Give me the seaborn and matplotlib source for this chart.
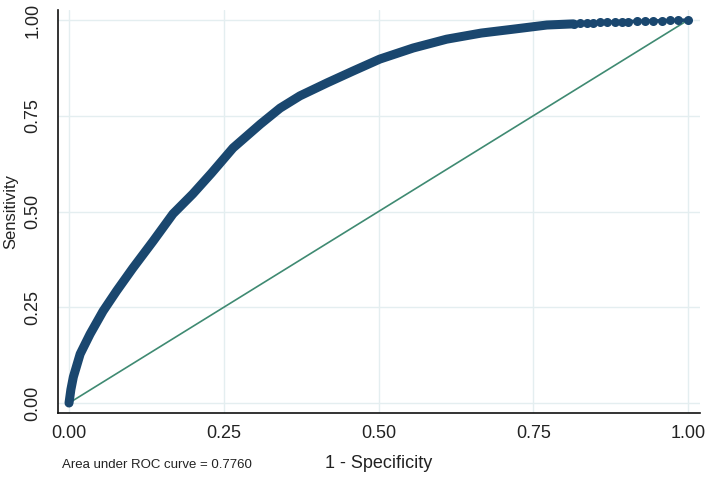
import numpy as np
import pandas as pd
import matplotlib
matplotlib.use('Agg')
import matplotlib.pyplot as plt
import seaborn as sns

# ROC points (1 - specificity, sensitivity)
# dense part of the curve
fpr = [0.0, 0.003, 0.007, 0.018, 0.034, 0.055, 0.077, 0.103, 0.136, 0.168,
       0.200, 0.230, 0.265, 0.309, 0.341, 0.373, 0.417, 0.459, 0.502, 0.556,
       0.610, 0.666, 0.717, 0.772, 0.815]
tpr = [0.0, 0.035, 0.068, 0.128, 0.180, 0.240, 0.293, 0.352, 0.423, 0.494,
       0.546, 0.600, 0.666, 0.728, 0.770, 0.802, 0.836, 0.867, 0.898, 0.927,
       0.950, 0.966, 0.976, 0.987, 0.990]
# sparse tail where single points can be seen
tail_fpr = [0.815, 0.826, 0.837, 0.847, 0.858, 0.869, 0.882, 0.893, 0.903,
            0.918, 0.931, 0.943, 0.958, 0.971, 0.984, 1.0]
tail_tpr = [0.990, 0.991, 0.992, 0.993, 0.994, 0.995, 0.995, 0.996, 0.996,
            0.997, 0.997, 0.998, 0.998, 0.999, 0.999, 1.0]
ref_x = [0.0, 1.0]
ref_y = [0.0, 1.0]
ticks = [0.0, 0.25, 0.5, 0.75, 1.0]
tick_labels = ['0.00', '0.25', '0.50', '0.75', '1.00']
auc_text = 'Area under ROC curve = 0.7760'

sns.set_style('white')
plt.rcParams['font.family'] = ['Liberation Sans', 'DejaVu Sans']

roc = pd.DataFrame({'fpr': fpr, 'tpr': tpr})
tail = pd.DataFrame({'fpr': tail_fpr, 'tpr': tail_tpr})
ref = pd.DataFrame({'x': ref_x, 'y': ref_y})

navy = '#1a476f'
fig = plt.figure(figsize=(7.09, 4.8), dpi=100)
ax = fig.add_axes([0.0818, 0.1396, 0.987 - 0.0818, 0.979 - 0.1396])

sns.lineplot(data=ref, x='x', y='y', ax=ax, color='#3f8a72', linewidth=1.2,
             zorder=2)
sns.lineplot(data=roc, x='fpr', y='tpr', ax=ax, color=navy, linewidth=6.5,
             sort=False, estimator=None, zorder=3,
             solid_capstyle='round', solid_joinstyle='round')
sns.lineplot(data=tail, x='fpr', y='tpr', ax=ax, color=navy, linewidth=2.5,
             marker='o', markersize=6.5, markeredgewidth=0, sort=False,
             estimator=None, zorder=3)

ax.set_xlim(-0.0178, 1.019)
ax.set_ylim(-0.026, 1.026)
ax.set_xticks(ticks)
ax.set_xticklabels(tick_labels)
ax.set_yticks(ticks)
ax.set_yticklabels(tick_labels, rotation=90, va='center')
ax.grid(True, color='#e4eef0', linewidth=1.0)
ax.set_axisbelow(True)
for s in ['top', 'right']:
    ax.spines[s].set_visible(False)
for s in ['left', 'bottom']:
    ax.spines[s].set_color('#111111')
    ax.spines[s].set_linewidth(1.2)
ax.tick_params(axis='both', direction='out', length=5, width=1.1,
               color='#111111', labelsize=13, labelcolor='#222222')
ax.tick_params(axis='x', pad=4)
ax.tick_params(axis='y', pad=7)

ax.set_xlabel('1 - Specificity', fontsize=13, color='#222222', labelpad=9)
ax.set_ylabel('Sensitivity', fontsize=12, color='#222222', labelpad=4)
fig.text(62 / 709, 1 - 465 / 480, auc_text, fontsize=9.5, color='#222222',
         ha='left', va='center')

fig.savefig('out.png', dpi=100)
